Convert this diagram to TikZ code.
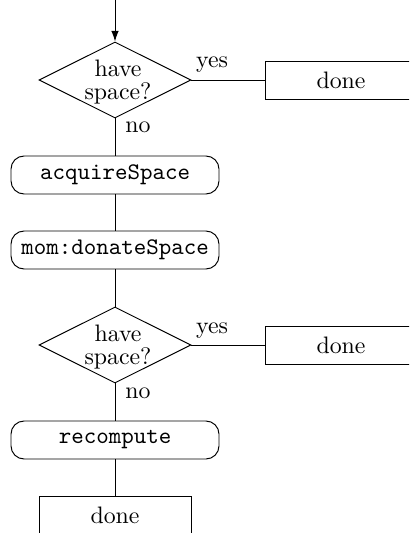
\documentclass[tikz,border=0pt]{standalone}
\usetikzlibrary{shapes.geometric,arrows.meta}
\begin{document}
\begin{tikzpicture}[x=0.42pt,y=-0.42pt,
  every node/.style={font=\fontsize{10}{10}\selectfont},
  dia/.style={draw,diamond,inner sep=0pt,minimum width=63.84pt,minimum height=31.92pt},
  diatext/.style={align=center,inner sep=0pt},
  box/.style={draw,rectangle,minimum width=63.84pt,minimum height=15.96pt,inner sep=0pt},
  proc/.style={draw,rectangle,rounded corners=5.5pt,minimum width=87.36pt,minimum height=15.96pt,inner sep=0pt,font=\ttfamily},
  lbl/.style={anchor=base,inner sep=0pt},
  conn/.style={draw,line width=0.4pt},
  arr/.style={conn,-{Latex[length=4.5pt,width=3.2pt]}}]
\useasboundingbox (0,0) rectangle (409,533);
\clip (0,0) rectangle (409,533);
\coordinate (top) at (115,0);
\node[dia] (d1) at (115,80) {};
\node[diatext] (t1) at (118,82) {have\\space?};
\node[lbl] (yes1) at (212,68) {yes};
\node[lbl] (no1) at (138,133) {no};
\node[box] (done1) at (341,80) {done};
\node[proc] (acq) at (115,175) {acquireSpace};
\node[proc] (mom) at (115,250) {mom:donateSpace};
\node[dia] (d2) at (115,345) {};
\node[diatext] (t2) at (118,347) {have\\space?};
\node[lbl] (yes2) at (212,333) {yes};
\node[lbl] (no2) at (138,398) {no};
\node[box] (done2) at (341,345) {done};
\node[proc] (rec) at (115,440) {recompute};
\node[box] (done3) at (115,515) {done};
\draw[arr] (top) -- (d1.north);
\draw[conn] (d1.east) -- (done1.west);
\draw[conn] (d1.south) -- (acq.north);
\draw[conn] (acq.south) -- (mom.north);
\draw[conn] (mom.south) -- (d2.north);
\draw[conn] (d2.east) -- (done2.west);
\draw[conn] (d2.south) -- (rec.north);
\draw[conn] (rec.south) -- (done3.north);
\end{tikzpicture}
\end{document}
